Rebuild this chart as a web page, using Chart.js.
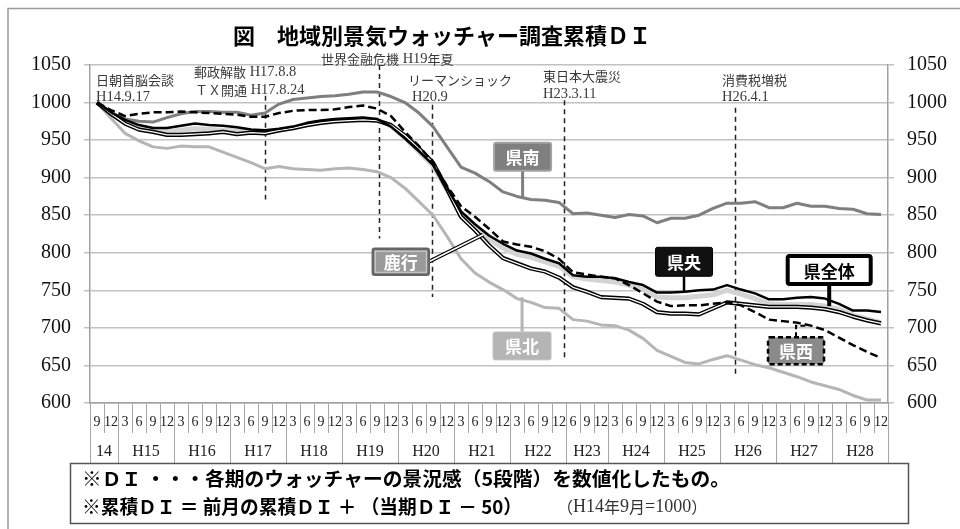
<!DOCTYPE html>
<html lang="ja">
<head>
<meta charset="utf-8">
<title>地域別景気ウォッチャー調査累積DI</title>
<script src="https://cdn.jsdelivr.net/npm/chart.js@4.4.1/dist/chart.umd.min.js"></script>
<style>
html,body{margin:0;padding:0;background:#fff;}
canvas{display:block;}
</style>
</head>
<body>
<canvas id="c" width="960" height="529"></canvas>
<script>
// ---- quarterly periods (month of each survey, grouped by year) ----
const months = [
  '9','12',
  '3','6','9','12',
  '3','6','9','12',
  '3','6','9','12',
  '3','6','9','12',
  '3','6','9','12',
  '3','6','9','12',
  '3','6','9','12',
  '3','6','9','12',
  '6','9','12',
  '3','6','9','12',
  '3','6','9','12',
  '3','6','9','12',
  '3','6','9','12',
  '3','6','9','12'
];
const years = ['14','H15','H16','H17','H18','H19','H20','H21','H22','H23','H24','H25','H26','H27','H28'];
const quartersPerYear = [2,4,4,4,4,4,4,4,4,3,4,4,4,4,4];

// ---- value axis ----
const yMin = 600, yMax = 1050, yStep = 50;

// ---- cumulative DI by region ----
const kenNan = [1000,987,978,975,974,980,985,988,988,987,
  987,983,986,998,1004,1006,1008,1009,1011,1014,
  1014,1008,1000,986,968,941,914,906,895,881,
  875,871,870,867,852,853,850,847,851,849,
  840,846,846,850,859,866,866,868,860,860,
  866,862,862,859,858,852,851];
const kenHoku = [1000,979,959,949,941,939,942,941,941,934,
  927,920,912,915,912,911,910,912,913,911,
  908,900,886,868,850,822,792,773,761,751,
  739,734,727,726,711,709,704,703,697,686,
  670,662,654,652,658,663,657,651,647,641,
  635,628,623,618,610,604,604];
const kenOu = [1000,987,977,970,966,966,969,972,970,969,
  967,964,963,965,968,973,976,978,979,980,
  978,968,952,935,917,886,855,838,823,812,
  803,799,792,786,770,768,768,766,761,757,
  747,747,748,750,751,757,751,746,738,738,
  740,741,739,732,723,723,721];
const kenSei = [1000,990,982,985,987,987,988,987,986,985,
  984,981,981,986,989,990,990,991,994,996,
  992,982,961,942,920,889,862,848,832,815,
  811,808,802,792,774,771,768,766,757,746,
  735,729,730,730,732,734,730,721,711,709,
  707,703,697,687,677,668,660];
const rokko = [1000,985,972,964,961,957,957,958,959,961,
  958,960,959,963,966,970,973,975,976,977,
  976,970,956,939,920,885,848,830,810,793,
  786,779,775,767,754,748,741,740,739,732,
  721,719,719,718,726,734,732,730,728,728,
  728,727,725,721,715,710,706];
const kenZentai = [1000,986,974,966,962,961,963,965,964,963,
  962,961,960,963,966,971,974,976,977,978,
  977,969,953,935,916,884,852,834,818,806,
  798,794,788,782,768,765,763,761,757,751,
  741,740,740,742,744,750,745,739,732,731,
  731,731,729,725,717,712,707];

// ---- events: text, position on the period axis, and value range of the marker line ----
const eventTexts = [
  ['日朝首脳会談','H14.9.17'],
  ['郵政解散 H17.8.8','ＴＸ開通 H17.8.24'],
  ['世界金融危機 H19年夏'],
  ['リーマンショック','H20.9'],
  ['東日本大震災','H23.3.11'],
  ['消費税増税','H26.4.1']
];
const eventAt = [null, 12, 20.15, 23.95, 33.35, 45.57];
const eventRange = [null, [1009,871], [1050,819], [997,741], [1003,659], [993,637]];

// ---- region callouts: label, box centre (period, value), pointer end (period, value) ----
const calloutNames = ['県南','鹿行','県北','県央','県全体','県西'];
const calloutBox = [[30.4,928],[21.7,788],[30.36,676],[41.93,788],[52.3,777],[49.93,669.5]];
const calloutTip = [[30.4,874],[27.57,824],[30.36,741],[41.93,748],[52.3,729],[50.7,703]];

const titleText = '図　地域別景気ウォッチャー調査累積ＤＩ';
const noteLines = ['※ＤＩ ・・・各期のウォッチャーの景況感（5段階）を数値化したもの。',
                   '※累積ＤＩ ＝ 前月の累積ＤＩ ＋ （当期ＤＩ － 50）',
                   '（H14年9月=1000）'];

const SERIF = '"Liberation Serif", "Noto Sans CJK JP"';
const GOTHIC = '"Noto Sans CJK JP", "Noto Sans"';

// text positions for the event notes (pixels)
const eventTextLayout = [
  [[96,80],[96,97]],
  [[194,72],[195,90]],
  [[321,59]],
  [[408,80],[412,97]],
  [[543,76],[543,94]],
  [[722,80],[722,97]]
];
// box sizes and styles for the callouts
const calloutStyle = [
  {w:57,h:28,fill:'#7f7f7f',stroke:'#a2a2a2',lw:2,color:'#fff',line:'#7f7f7f',lineW:3},
  {w:56,h:26,fill:'#9a9a9a',stroke:'#666',lw:2.5,inner:'#cfcfcf',color:'#fff',double:true},
  {w:58,h:28,fill:'#b5b5b5',stroke:'#c4c4c4',lw:1,color:'#fff',line:'#b5b5b5',lineW:3},
  {w:57,h:29,fill:'#111',stroke:'#000',lw:1,color:'#fff',line:'#000',lineW:2.5},
  {w:83,h:28,fill:'#fff',stroke:'#000',lw:4,color:'#000',line:'#000',lineW:4},
  {w:56,h:27,fill:'#8a8a8a',stroke:'#000',lw:2.5,dash:[5,3],color:'#fff',line:'#000',lineW:2,elbow:true}
];

// draws a string whose ASCII runs use a Latin font and the rest a Japanese font
function drawMixed(ctx, text, x, y, jpFont, enFont) {
  const runs = text.match(/[\x20-\x7e]+|[^\x20-\x7e]+/g) || [];
  let cx = x;
  runs.forEach(r => {
    ctx.font = /^[\x20-\x7e]+$/.test(r) ? enFont : jpFont;
    ctx.fillText(r, cx, y);
    cx += ctx.measureText(r).width;
  });
}

// draws a line of text stretched horizontally to a given width
function drawFitted(ctx, text, x, y, width) {
  const w = ctx.measureText(text).width;
  ctx.save();
  ctx.translate(x, y);
  ctx.scale(width / w, 1);
  ctx.fillText(text, 0, 0);
  ctx.restore();
}

const decor = {
  id: 'decor',
  beforeDraw(chart) {
    const ctx = chart.ctx;
    ctx.save();
    ctx.fillStyle = '#fff';
    ctx.fillRect(0, 0, chart.width, chart.height);
    ctx.strokeStyle = '#9a9a9a';
    ctx.lineWidth = 1.5;
    ctx.beginPath();
    ctx.moveTo(8, 540); ctx.lineTo(8, 8.5); ctx.lineTo(970, 8.5);
    ctx.stroke();
    // title
    ctx.fillStyle = '#000';
    ctx.font = 'bold 22px ' + GOTHIC;
    ctx.textAlign = 'center';
    ctx.textBaseline = 'middle';
    ctx.fillText(titleText, 442, 36);
    ctx.restore();
  },
  beforeDatasetsDraw(chart) {
    const ctx = chart.ctx, xs = chart.scales.x, ys = chart.scales.y;
    ctx.save();
    ctx.strokeStyle = '#222';
    ctx.lineWidth = 1.5;
    ctx.setLineDash([5, 4]);
    eventAt.forEach((at, k) => {
      if (at === null) return;
      const x = Math.round(xs.getPixelForValue(at)) + 0.5;
      ctx.beginPath();
      ctx.moveTo(x, ys.getPixelForValue(eventRange[k][0]));
      ctx.lineTo(x, ys.getPixelForValue(eventRange[k][1]));
      ctx.stroke();
    });
    ctx.setLineDash([]);
    ctx.fillStyle = '#3a3a3a';
    ctx.textAlign = 'left';
    ctx.textBaseline = 'middle';
    eventTexts.forEach((lines, k) => {
      lines.forEach((t, j) => {
        const p = eventTextLayout[k][j];
        drawMixed(ctx, t, p[0], p[1], '13px ' + GOTHIC, '14.5px "Liberation Serif"');
      });
    });
    ctx.restore();
  },
  afterDatasetsDraw(chart) {
    const ctx = chart.ctx, xs = chart.scales.x, ys = chart.scales.y;
    ctx.save();
    calloutNames.forEach((name, k) => {
      const st = calloutStyle[k];
      const cx = xs.getPixelForValue(calloutBox[k][0]);
      const cy = ys.getPixelForValue(calloutBox[k][1]);
      const tx = xs.getPixelForValue(calloutTip[k][0]);
      const ty = ys.getPixelForValue(calloutTip[k][1]);
      // pointer
      if (st.double) {
        const sx = cx + st.w / 2, sy = cy;
        ctx.beginPath(); ctx.moveTo(sx, sy); ctx.lineTo(tx, ty);
        ctx.strokeStyle = '#000'; ctx.lineWidth = 4; ctx.stroke();
        ctx.strokeStyle = '#fff'; ctx.lineWidth = 1.5; ctx.stroke();
      } else if (st.elbow) {
        ctx.beginPath();
        ctx.moveTo(cx, cy - st.h / 2); ctx.lineTo(cx, ty); ctx.lineTo(tx, ty);
        ctx.strokeStyle = st.line; ctx.lineWidth = st.lineW; ctx.setLineDash([5, 3]);
        ctx.stroke(); ctx.setLineDash([]);
      } else {
        const sy = ty > cy ? cy + st.h / 2 : cy - st.h / 2;
        ctx.beginPath(); ctx.moveTo(tx, sy); ctx.lineTo(tx, ty);
        ctx.strokeStyle = st.line; ctx.lineWidth = st.lineW; ctx.stroke();
      }
      // box
      const bx = cx - st.w / 2, by = cy - st.h / 2;
      ctx.fillStyle = st.fill;
      ctx.beginPath(); ctx.roundRect(bx, by, st.w, st.h, 2); ctx.fill();
      ctx.strokeStyle = st.stroke; ctx.lineWidth = st.lw;
      if (st.dash) ctx.setLineDash(st.dash);
      ctx.stroke();
      ctx.setLineDash([]);
      if (st.inner) {
        ctx.strokeStyle = st.inner; ctx.lineWidth = 1;
        ctx.strokeRect(bx + 2.5, by + 2.5, st.w - 5, st.h - 5);
      }
      ctx.fillStyle = st.color;
      ctx.font = 'bold 17px ' + GOTHIC;
      ctx.textAlign = 'center';
      ctx.textBaseline = 'middle';
      ctx.fillText(name, cx, cy + 1);
    });
    ctx.restore();
  },
  afterDraw(chart) {
    const ctx = chart.ctx, xs = chart.scales.x, area = chart.chartArea;
    ctx.save();
    // year row under the month labels
    ctx.strokeStyle = '#a6a6a6';
    ctx.lineWidth = 1;
    ctx.fillStyle = '#222';
    ctx.font = '16px ' + SERIF;
    ctx.textAlign = 'center';
    ctx.textBaseline = 'middle';
    let start = 0;
    const edges = [];
    years.forEach((yl, k) => {
      const end = start + quartersPerYear[k];
      const x0 = xs.getPixelForValue(start - 0.5);
      const x1 = xs.getPixelForValue(end - 0.5);
      edges.push(x0);
      if (k === years.length - 1) edges.push(x1);
      ctx.fillText(yl, (x0 + x1) / 2, 452);
      start = end;
    });
    edges.forEach(x => {
      const xx = Math.round(x) + 0.5;
      ctx.beginPath(); ctx.moveTo(xx, area.bottom); ctx.lineTo(xx, 463); ctx.stroke();
    });
    // note box
    ctx.strokeStyle = '#555';
    ctx.lineWidth = 1.5;
    ctx.strokeRect(70.5, 463.5, 838, 60);
    ctx.fillStyle = '#000';
    ctx.textAlign = 'left';
    ctx.font = 'bold 19px ' + GOTHIC;
    drawFitted(ctx, noteLines[0], 82, 479, 648);
    drawFitted(ctx, noteLines[1], 82, 507, 440);
    ctx.fillStyle = '#333';
    drawMixed(ctx, noteLines[2], 557, 507, '16px ' + GOTHIC, '18px "Liberation Serif"');
    ctx.restore();
  }
};

const yAxisCommon = {
  type: 'linear',
  min: yMin,
  max: yMax,
  ticks: {
    stepSize: yStep,
    padding: 13,
    color: '#111',
    font: { family: SERIF, size: 20 },
    callback: v => String(v)
  },
  border: { color: '#a0a0a0', width: 1.5 }
};

new Chart(document.getElementById('c'), {
  type: 'line',
  data: {
    labels: months,
    datasets: [
      { label: '県西', data: kenSei, borderColor: '#000', borderWidth: 2.5, borderDash: [8, 4], order: 0 },
      { label: '県央', data: kenOu, borderColor: '#000', borderWidth: 2.5, order: 1 },
      { label: '鹿行', data: rokko, borderColor: '#fff', borderWidth: 1.3, order: 2 },
      { label: '鹿行', data: rokko, borderColor: '#000', borderWidth: 4.2, order: 3 },
      { label: '県全体', data: kenZentai, borderColor: '#d4d4d4', borderWidth: 5, order: 4 },
      { label: '県南', data: kenNan, borderColor: '#7f7f7f', borderWidth: 3, order: 5 },
      { label: '県北', data: kenHoku, borderColor: '#b5b5b5', borderWidth: 3, order: 6 }
    ]
  },
  options: {
    responsive: false,
    devicePixelRatio: 1,
    animation: false,
    events: [],
    layout: { padding: { top: 65, left: 0, right: 0, bottom: 0 } },
    elements: {
      point: { radius: 0 },
      line: { tension: 0, fill: false, borderJoinStyle: 'round' }
    },
    plugins: { legend: { display: false }, tooltip: { enabled: false }, title: { display: false } },
    scales: {
      x: {
        type: 'category',
        offset: true,
        grid: { offset: true, drawOnChartArea: false, tickLength: 30, color: '#a6a6a6', lineWidth: 1 },
        border: { color: '#a0a0a0', width: 1.5 },
        ticks: {
          autoSkip: false, maxRotation: 0, minRotation: 0,
          padding: -19, color: '#222',
          font: { family: SERIF, size: 14 }
        },
        afterFit(s) { s.height = 126; }
      },
      y: Object.assign({}, yAxisCommon, {
        position: 'left',
        grid: { color: '#c2c2c2', lineWidth: 1.5, tickLength: 6 },
        afterFit(s) { s.width = 90; }
      }),
      y2: Object.assign({}, yAxisCommon, {
        position: 'right',
        grid: { drawOnChartArea: false, color: '#c2c2c2', lineWidth: 1.5, tickLength: 6 },
        afterFit(s) { s.width = 72; }
      })
    }
  },
  plugins: [decor]
});
</script>
</body>
</html>
